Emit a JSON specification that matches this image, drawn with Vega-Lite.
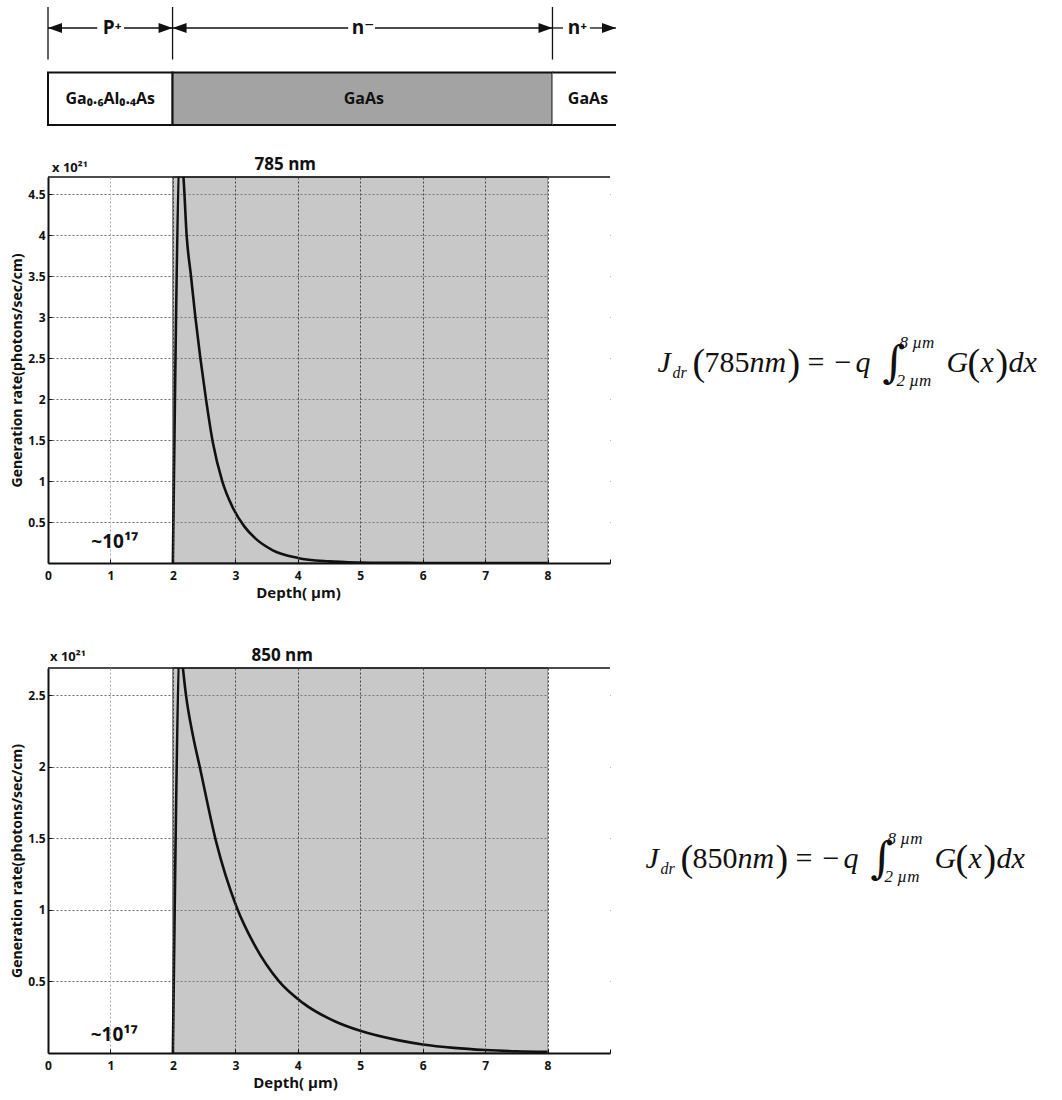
{
  "$schema": "https://vega.github.io/schema/vega-lite/v6.json",
  "background": "white",
  "padding": {"left": 10, "top": 6, "right": 5, "bottom": 5},
  "config": {
    "view": {"stroke": null},
    "font": "Open Sans, DejaVu Sans",
    "text": {"font": "Open Sans, DejaVu Sans"},
    "axis": {
      "labelFont": "Open Sans, DejaVu Sans", "labelFontSize": 12, "labelFontWeight": "bold", "labelColor": "#111",
      "titleFont": "Open Sans, DejaVu Sans", "titleFontWeight": "bold", "titleColor": "#111",
      "domainColor": "#111", "domainWidth": 2, "tickColor": "#111", "tickSize": -4, "tickWidth": 1
    }
  },
  "spacing": 52,
  "bounds": "flush",
  "vconcat": [
    {
      "width": 568,
      "height": 118,
      "layer": [
        {
          "data": {"values": [
            {"layer": "P⁺", "start": 0, "end": 2, "row": "box"},
            {"layer": "n⁻", "start": 2, "end": 8.1, "row": "box"},
            {"layer": "n⁺", "start": 8.1, "end": 9.12, "row": "box"}
          ]},
          "mark": {"type": "rect", "stroke": "#111", "strokeWidth": 2},
          "encoding": {
            "x": {"field": "start", "type": "quantitative", "scale": {"domain": [0, 9.12], "nice": false, "zero": false}, "axis": null},
            "x2": {"field": "end"},
            "y": {"field": "row", "type": "nominal", "scale": {"type": "band", "domain": ["dim", "box"], "paddingInner": 0.2, "paddingOuter": 0}, "axis": null},
            "fill": {"field": "layer", "type": "nominal", "scale": {"domain": ["P⁺", "n⁻", "n⁺"], "range": ["#ffffff", "#a3a3a3", "#ffffff"]}, "legend": null},
            "strokeOpacity": {"condition": {"test": "datum.layer === 'n⁺'", "value": 0}, "value": 1}
          }
        },
        {
          "data": {"values": [{"layer": "n⁺", "start": 8.1, "end": 9.12, "row": "box"}]},
          "mark": {"type": "rule", "stroke": "#111", "strokeWidth": 2},
          "encoding": {
            "x": {"field": "start", "type": "quantitative"},
            "x2": {"field": "end"},
            "y": {"field": "row", "type": "nominal", "bandPosition": 0}
          }
        },
        {
          "data": {"values": [{"layer": "n⁺", "start": 8.1, "end": 9.12, "row": "box"}]},
          "mark": {"type": "rule", "stroke": "#111", "strokeWidth": 2},
          "encoding": {
            "x": {"field": "start", "type": "quantitative"},
            "x2": {"field": "end"},
            "y": {"field": "row", "type": "nominal", "bandPosition": 1}
          }
        },
        {
          "data": {"values": [
            {"material": "Ga₀.₆Al₀.₄As", "at": 1.0, "row": "box"},
            {"material": "GaAs", "at": 5.07, "row": "box"},
            {"material": "GaAs", "at": 8.67, "row": "box"}
          ]},
          "mark": {"type": "text", "fontSize": 16, "fontWeight": "bold", "color": "#111", "baseline": "middle"},
          "encoding": {
            "x": {"field": "at", "type": "quantitative"},
            "y": {"field": "row", "type": "nominal", "bandPosition": 0.5},
            "text": {"field": "material"}
          }
        },
        {
          "data": {"values": [
            {"b": 0, "row": "dim"}, {"b": 2, "row": "dim"}, {"b": 8.1, "row": "dim"}
          ]},
          "mark": {"type": "rect", "fill": null, "stroke": "#111", "strokeWidth": 1.3},
          "encoding": {
            "x": {"field": "b", "type": "quantitative"},
            "x2": {"field": "b"},
            "y": {"field": "row", "type": "nominal"}
          }
        },
        {
          "data": {"values": [
            {"from": 0, "to": 0.79, "row": "dim"},
            {"from": 1.22, "to": 2, "row": "dim"},
            {"from": 2, "to": 4.82, "row": "dim"},
            {"from": 5.25, "to": 8.1, "row": "dim"},
            {"from": 8.1, "to": 8.27, "row": "dim"},
            {"from": 8.7, "to": 9.12, "row": "dim"}
          ]},
          "mark": {"type": "rule", "stroke": "#111", "strokeWidth": 1.3},
          "encoding": {
            "x": {"field": "from", "type": "quantitative"},
            "x2": {"field": "to"},
            "y": {"field": "row", "type": "nominal", "bandPosition": 0.4}
          }
        },
        {
          "data": {"values": [
            {"tip": 0, "dir": "left", "row": "dim"},
            {"tip": 2, "dir": "right", "row": "dim"},
            {"tip": 2, "dir": "left", "row": "dim"},
            {"tip": 8.1, "dir": "right", "row": "dim"},
            {"tip": 9.12, "dir": "right", "row": "dim"}
          ]},
          "mark": {"type": "point", "filled": true, "color": "#111", "opacity": 1, "size": 196},
          "encoding": {
            "x": {"field": "tip", "type": "quantitative"},
            "y": {"field": "row", "type": "nominal", "bandPosition": 0.4},
            "shape": {"field": "dir", "type": "nominal", "scale": {"domain": ["left", "right"], "range": ["M0,0L2,-0.7L2,0.7Z", "M0,0L-2,-0.7L-2,0.7Z"]}, "legend": null}
          }
        },
        {
          "data": {"values": [
            {"label": "P⁺", "at": 1.03, "row": "dim"},
            {"label": "n⁻", "at": 5.06, "row": "dim"},
            {"label": "n⁺", "at": 8.5, "row": "dim"}
          ]},
          "mark": {"type": "text", "fontSize": 19, "fontWeight": "bold", "color": "#111", "baseline": "middle"},
          "encoding": {
            "x": {"field": "at", "type": "quantitative"},
            "y": {"field": "row", "type": "nominal", "bandPosition": 0.4},
            "text": {"field": "label"}
          }
        }
      ]
    },
    {
      "width": 562,
      "height": 386,
      "layer": [
        {
          "data": {"values": [{"depth": 2, "depth_end": 8}]},
          "mark": {"type": "rect", "fill": "#8a8a8a", "fillOpacity": 0.47, "stroke": "#444", "strokeWidth": 1},
          "encoding": {
            "x": {"field": "depth", "type": "quantitative", "scale": {"domain": [0, 9], "nice": false, "zero": false},
              "axis": {"title": "Depth( µm)", "values": [0, 1, 2, 3, 4, 5, 6, 7, 8, 9], "format": "d", "labelExpr": "datum.value >= 9 ? '' : datum.label",
                "zindex": 1, "grid": true, "gridDash": [2, 2],
                "gridColor": {"condition": {"test": "datum.value < 2", "value": "#aaaaaa"}, "value": "#444444"},
                "gridOpacity": {"condition": {"test": "datum.value == 0 || datum.value >= 9", "value": 0}, "value": 1},
                "labelPadding": 11, "labelFlush": false, "titleFontSize": 15, "titleX": 250, "titleY": 34, "titleBaseline": "alphabetic"}},
            "x2": {"field": "depth_end"}
          }
        },
        {
          "data": {"values": [{"depth": 8, "depth_end": 9}]},
          "mark": {"type": "rect", "fill": "white", "stroke": null},
          "encoding": {
            "x": {"field": "depth", "type": "quantitative", "title": "Depth( µm)"},
            "x2": {"field": "depth_end"}
          }
        },
        {
          "data": {"values": [
            {"depth": 2.0, "rate": 0}, {"depth": 2.12, "rate": 5.0}, {"depth": 2.17, "rate": 4.7},
            {"depth": 2.22, "rate": 4.0}, {"depth": 2.29, "rate": 3.5}, {"depth": 2.36, "rate": 3.0},
            {"depth": 2.44, "rate": 2.5}, {"depth": 2.53, "rate": 2.0}, {"depth": 2.64, "rate": 1.47},
            {"depth": 2.79, "rate": 1.0}, {"depth": 2.95, "rate": 0.69}, {"depth": 3.14, "rate": 0.45},
            {"depth": 3.32, "rate": 0.3}, {"depth": 3.6, "rate": 0.155}, {"depth": 4.0, "rate": 0.062},
            {"depth": 4.5, "rate": 0.02}, {"depth": 5.0, "rate": 0.006}, {"depth": 5.5, "rate": 0.002},
            {"depth": 6.0, "rate": 0.0006}, {"depth": 7.0, "rate": 0.0}, {"depth": 8.0, "rate": 0.0}
          ]},
          "mark": {"type": "line", "color": "#111", "strokeWidth": 2.6, "clip": true, "interpolate": "monotone"},
          "encoding": {
            "x": {"field": "depth", "type": "quantitative", "title": "Depth( µm)"},
            "y": {"field": "rate", "type": "quantitative", "scale": {"domain": [0, 4.71], "nice": false, "zero": true},
              "axis": {"title": "Generation rate(photons/sec/cm)", "values": [0.5, 1, 1.5, 2, 2.5, 3, 3.5, 4, 4.5], "format": "~g",
                "grid": true, "gridColor": "#6a6a6a", "gridDash": [2, 2], "labelPadding": 7, "titleFontSize": 14, "titlePadding": 3}}
          }
        },
        {
          "data": {"values": [{"depth": 0, "depth_end": 9, "rate": 4.71}]},
          "mark": {"type": "rule", "stroke": "#111", "strokeWidth": 1.5},
          "encoding": {
            "x": {"field": "depth", "type": "quantitative", "title": "Depth( µm)"},
            "x2": {"field": "depth_end"},
            "y": {"field": "rate", "type": "quantitative", "title": "Generation rate(photons/sec/cm)"}
          }
        },
        {
          "data": {"values": [{"label": "x 10²¹", "depth": 0, "rate": 4.71}]},
          "mark": {"type": "text", "fontSize": 13, "fontWeight": "bold", "color": "#111", "align": "left", "baseline": "alphabetic", "dx": 4, "dy": -5},
          "encoding": {
            "x": {"field": "depth", "type": "quantitative", "title": "Depth( µm)"},
            "y": {"field": "rate", "type": "quantitative", "title": "Generation rate(photons/sec/cm)"},
            "text": {"field": "label"}
          }
        },
        {
          "data": {"values": [{"label": "785 nm", "depth": 3.8, "rate": 4.71}]},
          "mark": {"type": "text", "fontSize": 17, "fontWeight": "bold", "color": "#111", "align": "center", "baseline": "alphabetic", "dy": -7},
          "encoding": {
            "x": {"field": "depth", "type": "quantitative", "title": "Depth( µm)"},
            "y": {"field": "rate", "type": "quantitative", "title": "Generation rate(photons/sec/cm)"},
            "text": {"field": "label"}
          }
        },
        {
          "data": {"values": [{"label": "~10¹⁷", "depth": 1.07, "rate": 0.18}]},
          "mark": {"type": "text", "fontSize": 19, "fontWeight": "bold", "color": "#111", "align": "center", "baseline": "alphabetic"},
          "encoding": {
            "x": {"field": "depth", "type": "quantitative", "title": "Depth( µm)"},
            "y": {"field": "rate", "type": "quantitative", "title": "Generation rate(photons/sec/cm)"},
            "text": {"field": "label"}
          }
        },
        {
          "data": {"values": [{"depth": 9.76, "rate": 2.33}]},
          "encoding": {
            "x": {"field": "depth", "type": "quantitative", "title": "Depth( µm)"},
            "y": {"field": "rate", "type": "quantitative", "title": "Generation rate(photons/sec/cm)"}
          },
          "layer": [
            {"mark": {"type": "text", "text": "J", "font": "Liberation Serif", "fontSize": 30, "fontStyle": "italic", "align": "left", "baseline": "alphabetic", "color": "#111", "dx": 0, "dy": 0}},
            {"mark": {"type": "text", "text": "dr", "font": "Liberation Serif", "fontSize": 16, "fontStyle": "italic", "align": "left", "baseline": "alphabetic", "color": "#111", "dx": 15, "dy": 6}},
            {"mark": {"type": "text", "text": "(", "font": "Liberation Serif", "fontSize": 38, "align": "left", "baseline": "alphabetic", "color": "#111", "dx": 35, "dy": 3}},
            {"mark": {"type": "text", "text": "785", "font": "Liberation Serif", "fontSize": 30, "align": "left", "baseline": "alphabetic", "color": "#111", "dx": 47, "dy": 0}},
            {"mark": {"type": "text", "text": "nm", "font": "Liberation Serif", "fontSize": 30, "fontStyle": "italic", "align": "left", "baseline": "alphabetic", "color": "#111", "dx": 92, "dy": 0}},
            {"mark": {"type": "text", "text": ")", "font": "Liberation Serif", "fontSize": 38, "align": "left", "baseline": "alphabetic", "color": "#111", "dx": 130, "dy": 3}},
            {"mark": {"type": "text", "text": "=", "font": "Liberation Serif", "fontSize": 30, "align": "left", "baseline": "alphabetic", "color": "#111", "dx": 150, "dy": 0}},
            {"mark": {"type": "text", "text": "−", "font": "Liberation Serif", "fontSize": 30, "align": "left", "baseline": "alphabetic", "color": "#111", "dx": 177, "dy": 0}},
            {"mark": {"type": "text", "text": "q", "font": "Liberation Serif", "fontSize": 30, "fontStyle": "italic", "align": "left", "baseline": "alphabetic", "color": "#111", "dx": 198, "dy": 0}},
            {"mark": {"type": "text", "text": "∫", "font": "DejaVu Serif", "fontSize": 44, "align": "left", "baseline": "alphabetic", "color": "#111", "dx": 225, "dy": 5}},
            {"mark": {"type": "text", "text": "8 µm", "font": "Liberation Serif", "fontSize": 17, "fontStyle": "italic", "align": "left", "baseline": "alphabetic", "color": "#111", "dx": 242, "dy": -24}},
            {"mark": {"type": "text", "text": "2 µm", "font": "Liberation Serif", "fontSize": 17, "fontStyle": "italic", "align": "left", "baseline": "alphabetic", "color": "#111", "dx": 239, "dy": 14}},
            {"mark": {"type": "text", "text": "G", "font": "Liberation Serif", "fontSize": 30, "fontStyle": "italic", "align": "left", "baseline": "alphabetic", "color": "#111", "dx": 289, "dy": 0}},
            {"mark": {"type": "text", "text": "(", "font": "Liberation Serif", "fontSize": 38, "align": "left", "baseline": "alphabetic", "color": "#111", "dx": 310, "dy": 3}},
            {"mark": {"type": "text", "text": "x", "font": "Liberation Serif", "fontSize": 30, "fontStyle": "italic", "align": "left", "baseline": "alphabetic", "color": "#111", "dx": 323, "dy": 0}},
            {"mark": {"type": "text", "text": ")", "font": "Liberation Serif", "fontSize": 38, "align": "left", "baseline": "alphabetic", "color": "#111", "dx": 338, "dy": 3}},
            {"mark": {"type": "text", "text": "dx", "font": "Liberation Serif", "fontSize": 30, "fontStyle": "italic", "align": "left", "baseline": "alphabetic", "color": "#111", "dx": 351, "dy": 0}}
          ]
        }
      ]
    },
    {
      "width": 10,
      "height": 0.01,
      "data": {"values": [{"t": ""}]},
      "mark": {"type": "text"},
      "encoding": {"text": {"field": "t"}}
    },
    {
      "width": 562,
      "height": 385,
      "layer": [
        {
          "data": {"values": [{"depth": 2, "depth_end": 8}]},
          "mark": {"type": "rect", "fill": "#8a8a8a", "fillOpacity": 0.47, "stroke": "#444", "strokeWidth": 1},
          "encoding": {
            "x": {"field": "depth", "type": "quantitative", "scale": {"domain": [0, 9], "nice": false, "zero": false},
              "axis": {"title": "Depth( µm)", "values": [0, 1, 2, 3, 4, 5, 6, 7, 8, 9], "format": "d", "labelExpr": "datum.value >= 9 ? '' : datum.label",
                "zindex": 1, "grid": true, "gridDash": [2, 2],
                "gridColor": {"condition": {"test": "datum.value < 2", "value": "#aaaaaa"}, "value": "#444444"},
                "gridOpacity": {"condition": {"test": "datum.value == 0 || datum.value >= 9", "value": 0}, "value": 1},
                "labelPadding": 11, "labelFlush": false, "titleFontSize": 15, "titleX": 247, "titleY": 34, "titleBaseline": "alphabetic"}},
            "x2": {"field": "depth_end"}
          }
        },
        {
          "data": {"values": [{"depth": 8, "depth_end": 9}]},
          "mark": {"type": "rect", "fill": "white", "stroke": null},
          "encoding": {
            "x": {"field": "depth", "type": "quantitative", "title": "Depth( µm)"},
            "x2": {"field": "depth_end"}
          }
        },
        {
          "data": {"values": [
            {"depth": 2.0, "rate": 0}, {"depth": 2.12, "rate": 2.85}, {"depth": 2.16, "rate": 2.69},
            {"depth": 2.21, "rate": 2.5}, {"depth": 2.32, "rate": 2.22}, {"depth": 2.43, "rate": 2.0},
            {"depth": 2.69, "rate": 1.48}, {"depth": 3.02, "rate": 1.02}, {"depth": 3.3, "rate": 0.76},
            {"depth": 3.7, "rate": 0.5}, {"depth": 4.08, "rate": 0.35}, {"depth": 4.6, "rate": 0.22},
            {"depth": 5.0, "rate": 0.155}, {"depth": 5.6, "rate": 0.09}, {"depth": 6.0, "rate": 0.06},
            {"depth": 6.5, "rate": 0.036}, {"depth": 7.0, "rate": 0.021}, {"depth": 7.5, "rate": 0.012},
            {"depth": 8.0, "rate": 0.008}
          ]},
          "mark": {"type": "line", "color": "#111", "strokeWidth": 2.6, "clip": true, "interpolate": "monotone"},
          "encoding": {
            "x": {"field": "depth", "type": "quantitative", "title": "Depth( µm)"},
            "y": {"field": "rate", "type": "quantitative", "scale": {"domain": [0, 2.69], "nice": false, "zero": true},
              "axis": {"title": "Generation rate(photons/sec/cm)", "values": [0.5, 1, 1.5, 2, 2.5], "format": "~g",
                "grid": true, "gridColor": "#6a6a6a", "gridDash": [2, 2], "labelPadding": 7, "titleFontSize": 14, "titlePadding": 3}}
          }
        },
        {
          "data": {"values": [{"depth": 0, "depth_end": 9, "rate": 2.69}]},
          "mark": {"type": "rule", "stroke": "#111", "strokeWidth": 1.5},
          "encoding": {
            "x": {"field": "depth", "type": "quantitative", "title": "Depth( µm)"},
            "x2": {"field": "depth_end"},
            "y": {"field": "rate", "type": "quantitative", "title": "Generation rate(photons/sec/cm)"}
          }
        },
        {
          "data": {"values": [{"label": "x 10²¹", "depth": 0, "rate": 2.69}]},
          "mark": {"type": "text", "fontSize": 13, "fontWeight": "bold", "color": "#111", "align": "left", "baseline": "alphabetic", "dx": 2, "dy": -7},
          "encoding": {
            "x": {"field": "depth", "type": "quantitative", "title": "Depth( µm)"},
            "y": {"field": "rate", "type": "quantitative", "title": "Generation rate(photons/sec/cm)"},
            "text": {"field": "label"}
          }
        },
        {
          "data": {"values": [{"label": "850 nm", "depth": 3.75, "rate": 2.69}]},
          "mark": {"type": "text", "fontSize": 17, "fontWeight": "bold", "color": "#111", "align": "center", "baseline": "alphabetic", "dy": -7},
          "encoding": {
            "x": {"field": "depth", "type": "quantitative", "title": "Depth( µm)"},
            "y": {"field": "rate", "type": "quantitative", "title": "Generation rate(photons/sec/cm)"},
            "text": {"field": "label"}
          }
        },
        {
          "data": {"values": [{"label": "~10¹⁷", "depth": 1.06, "rate": 0.084}]},
          "mark": {"type": "text", "fontSize": 19, "fontWeight": "bold", "color": "#111", "align": "center", "baseline": "alphabetic"},
          "encoding": {
            "x": {"field": "depth", "type": "quantitative", "title": "Depth( µm)"},
            "y": {"field": "rate", "type": "quantitative", "title": "Generation rate(photons/sec/cm)"},
            "text": {"field": "label"}
          }
        },
        {
          "data": {"values": [{"depth": 9.57, "rate": 1.29}]},
          "encoding": {
            "x": {"field": "depth", "type": "quantitative", "title": "Depth( µm)"},
            "y": {"field": "rate", "type": "quantitative", "title": "Generation rate(photons/sec/cm)"}
          },
          "layer": [
            {"mark": {"type": "text", "text": "J", "font": "Liberation Serif", "fontSize": 30, "fontStyle": "italic", "align": "left", "baseline": "alphabetic", "color": "#111", "dx": 0, "dy": 0}},
            {"mark": {"type": "text", "text": "dr", "font": "Liberation Serif", "fontSize": 16, "fontStyle": "italic", "align": "left", "baseline": "alphabetic", "color": "#111", "dx": 15, "dy": 6}},
            {"mark": {"type": "text", "text": "(", "font": "Liberation Serif", "fontSize": 38, "align": "left", "baseline": "alphabetic", "color": "#111", "dx": 35, "dy": 3}},
            {"mark": {"type": "text", "text": "850", "font": "Liberation Serif", "fontSize": 30, "align": "left", "baseline": "alphabetic", "color": "#111", "dx": 47, "dy": 0}},
            {"mark": {"type": "text", "text": "nm", "font": "Liberation Serif", "fontSize": 30, "fontStyle": "italic", "align": "left", "baseline": "alphabetic", "color": "#111", "dx": 92, "dy": 0}},
            {"mark": {"type": "text", "text": ")", "font": "Liberation Serif", "fontSize": 38, "align": "left", "baseline": "alphabetic", "color": "#111", "dx": 130, "dy": 3}},
            {"mark": {"type": "text", "text": "=", "font": "Liberation Serif", "fontSize": 30, "align": "left", "baseline": "alphabetic", "color": "#111", "dx": 150, "dy": 0}},
            {"mark": {"type": "text", "text": "−", "font": "Liberation Serif", "fontSize": 30, "align": "left", "baseline": "alphabetic", "color": "#111", "dx": 177, "dy": 0}},
            {"mark": {"type": "text", "text": "q", "font": "Liberation Serif", "fontSize": 30, "fontStyle": "italic", "align": "left", "baseline": "alphabetic", "color": "#111", "dx": 198, "dy": 0}},
            {"mark": {"type": "text", "text": "∫", "font": "DejaVu Serif", "fontSize": 44, "align": "left", "baseline": "alphabetic", "color": "#111", "dx": 225, "dy": 5}},
            {"mark": {"type": "text", "text": "8 µm", "font": "Liberation Serif", "fontSize": 17, "fontStyle": "italic", "align": "left", "baseline": "alphabetic", "color": "#111", "dx": 242, "dy": -24}},
            {"mark": {"type": "text", "text": "2 µm", "font": "Liberation Serif", "fontSize": 17, "fontStyle": "italic", "align": "left", "baseline": "alphabetic", "color": "#111", "dx": 239, "dy": 14}},
            {"mark": {"type": "text", "text": "G", "font": "Liberation Serif", "fontSize": 30, "fontStyle": "italic", "align": "left", "baseline": "alphabetic", "color": "#111", "dx": 289, "dy": 0}},
            {"mark": {"type": "text", "text": "(", "font": "Liberation Serif", "fontSize": 38, "align": "left", "baseline": "alphabetic", "color": "#111", "dx": 310, "dy": 3}},
            {"mark": {"type": "text", "text": "x", "font": "Liberation Serif", "fontSize": 30, "fontStyle": "italic", "align": "left", "baseline": "alphabetic", "color": "#111", "dx": 323, "dy": 0}},
            {"mark": {"type": "text", "text": ")", "font": "Liberation Serif", "fontSize": 38, "align": "left", "baseline": "alphabetic", "color": "#111", "dx": 338, "dy": 3}},
            {"mark": {"type": "text", "text": "dx", "font": "Liberation Serif", "fontSize": 30, "fontStyle": "italic", "align": "left", "baseline": "alphabetic", "color": "#111", "dx": 351, "dy": 0}}
          ]
        }
      ]
    }
  ]
}
